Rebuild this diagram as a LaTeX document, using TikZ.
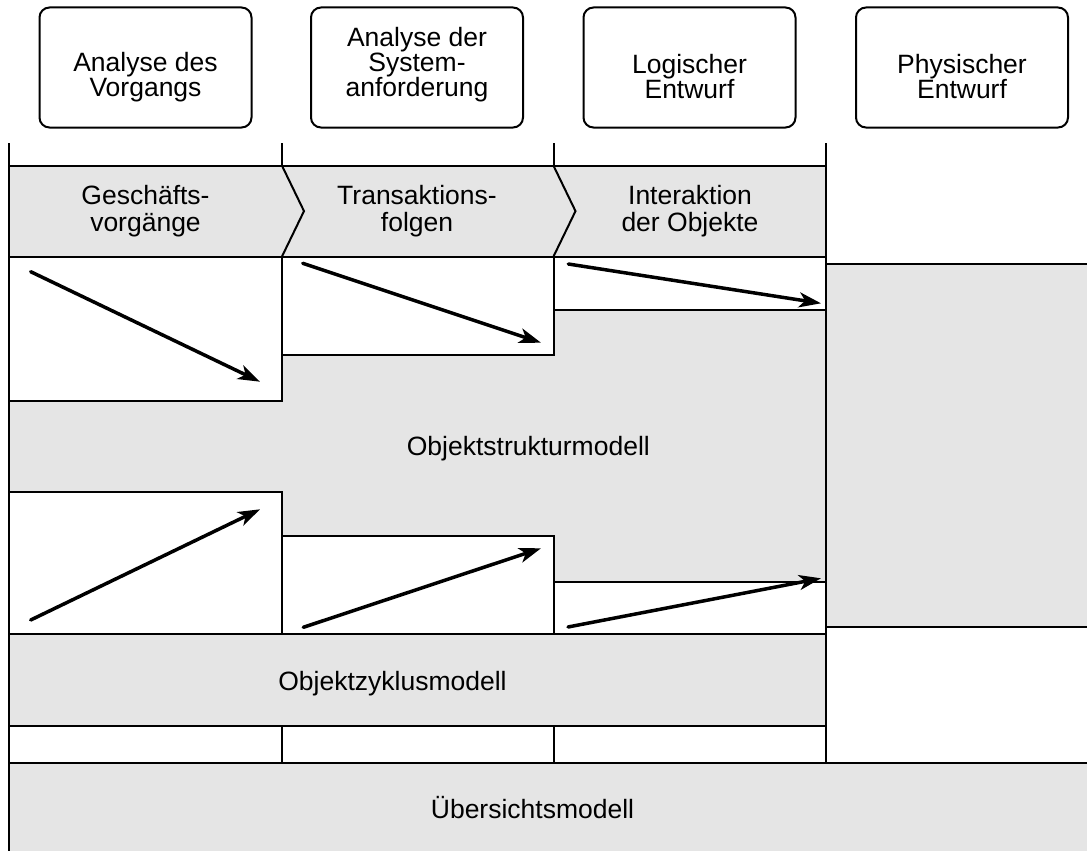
\documentclass[tikz,border=0pt]{standalone}
\usepackage{fontspec}
\setmainfont{Liberation Sans}
\usetikzlibrary{arrows.meta}
\definecolor{panel}{RGB}{229,229,229}

\begin{document}
\begin{tikzpicture}[x=1pt,y=-1pt,
  font=\fontsize{26.5}{27}\selectfont,
  phase/.style={draw, line width=2pt, rounded corners=10pt,
    minimum width=212pt, minimum height=120pt, inner sep=0pt},
  phasetext/.style={align=center, inner sep=0pt, font=\fontsize{26.5}{25}\selectfont},
  label/.style={align=center, inner sep=0pt},
  model/.style={anchor=base, inner sep=0pt},
  rule/.style={line width=2pt},
  flow/.style={line width=3.5pt, line cap=round,
    -{Stealth[length=22pt, width=15pt, inset=6pt]}}]

% page frame
\useasboundingbox (0,0) rectangle (1087,851);

% column positions and row levels
\def\xL{8.5}   \def\xa{282}  \def\xb{553.5} \def\xc{826} \def\xR{1095}
\def\yTick{143} \def\yBandT{165.7} \def\yBandB{256.5} \def\yBandM{211.1}
\def\yRT{264.3} \def\yUc{310} \def\yUb{355} \def\yUa{400.5}
\def\yLa{491.7} \def\yLb{536.3} \def\yLc{582} \def\yRB{626.7}
\def\yZT{634} \def\yZB{725.7} \def\yOT{762.7} \def\yEnd{860}

% shaded areas
\fill[panel] (\xL,\yBandT) rectangle (\xc,\yBandB);
\fill[panel] (\xL,\yUa) -- (\xa,\yUa) -- (\xa,\yUb) -- (\xb,\yUb) -- (\xb,\yUc)
  -- (\xc,\yUc) -- (\xc,\yRT) -- (\xR,\yRT) -- (\xR,\yRB) -- (\xc,\yRB)
  -- (\xc,\yLc) -- (\xb,\yLc) -- (\xb,\yLb) -- (\xa,\yLb) -- (\xa,\yLa)
  -- (\xL,\yLa) -- cycle;
\fill[panel] (\xL,\yZT) rectangle (\xc,\yZB);
\fill[panel] (\xL,\yOT) rectangle (\xR,\yEnd);

% outer verticals and column ticks
\draw[rule] (\xL,\yTick) -- (\xL,\yEnd);
\draw[rule] (\xa,\yTick) -- (\xa,\yBandT);
\draw[rule] (\xb,\yTick) -- (\xb,\yBandT);
\draw[rule] (\xc,\yTick) -- (\xc,\yOT);

% process band with chevrons
\draw[rule] (\xL,\yBandT) -- (\xc,\yBandT);
\draw[rule] (\xL,\yBandB) -- (\xc,\yBandB);
\draw[rule] (\xa,\yBandT) -- (\xa+22,\yBandM) -- (\xa,\yBandB);
\draw[rule] (\xb,\yBandT) -- (\xb+22,\yBandM) -- (\xb,\yBandB);

% upper stepped boundary of the structure model
\draw[rule] (\xa,\yBandB) -- (\xa,\yUa);
\draw[rule] (\xb,\yBandB) -- (\xb,\yUb);
\draw[rule] (\xL,\yUa) -- (\xa,\yUa) -- (\xa,\yUb) -- (\xb,\yUb) -- (\xb,\yUc) -- (\xc,\yUc);
\draw[rule] (\xc,\yRT) -- (\xR,\yRT);

% lower stepped boundary of the structure model
\draw[rule] (\xL,\yLa) -- (\xa,\yLa) -- (\xa,\yLb) -- (\xb,\yLb) -- (\xb,\yLc) -- (\xc,\yLc);
\draw[rule] (\xa,\yLa) -- (\xa,\yZT);
\draw[rule] (\xb,\yLb) -- (\xb,\yZT);
\draw[rule] (\xc,\yRB) -- (\xR,\yRB);

% life-cycle band, strip and overview band
\draw[rule] (\xL,\yZT) -- (\xc,\yZT);
\draw[rule] (\xL,\yZB) -- (\xc,\yZB);
\draw[rule] (\xa,\yZB) -- (\xa,\yOT);
\draw[rule] (\xb,\yZB) -- (\xb,\yOT);
\draw[rule] (\xL,\yOT) -- (\xR,\yOT);

% phases
\node[phase] (p1) at (145.5,67.5) {};
\node[phase] (p2) at (417,67.5)   {};
\node[phase] (p3) at (689.5,67.5) {};
\node[phase] (p4) at (962,67.5)   {};
\node[phasetext] (t1) at (145.5,77) {Analyse des\\Vorgangs};
\node[phasetext] (t2) at (417,65)   {Analyse der\\System-\\anforderung};
\node[phasetext] (t3) at (689.5,77) {Logischer\\Entwurf};
\node[phasetext] (t4) at (962,77)   {Physischer\\Entwurf};

% band labels
\node[label] (g1) at (145.5,211.5) {Geschäfts-\\vorgänge};
\node[label] (g2) at (417,211.5)   {Transaktions-\\folgen};
\node[label] (g3) at (690,211.5)   {Interaktion\\der Objekte};

% model labels
\node[model] (m1) at (528.3,455.5) {Objektstrukturmodell};
\node[model] (m2) at (392.5,690.5) {Objektzyklusmodell};
\node[model] (m3) at (532.5,818)   {Übersichtsmodell};

% refinement arrows
\coordinate (a1s) at (30.7,271.7);  \coordinate (a1e) at (260,381.7);
\coordinate (a2s) at (302.7,263.3); \coordinate (a2e) at (541,342.7);
\coordinate (a3s) at (568.3,264);   \coordinate (a3e) at (821,303.3);
\coordinate (b1s) at (30.7,620);    \coordinate (b1e) at (260,509.3);
\coordinate (b2s) at (303.3,627.3); \coordinate (b2e) at (541,548.3);
\coordinate (b3s) at (568,627);     \coordinate (b3e) at (821,578.3);
\draw[flow] (a1s) -- (a1e);
\draw[flow] (a2s) -- (a2e);
\draw[flow] (a3s) -- (a3e);
\draw[flow] (b1s) -- (b1e);
\draw[flow] (b2s) -- (b2e);
\draw[flow] (b3s) -- (b3e);
\end{tikzpicture}
\end{document}
